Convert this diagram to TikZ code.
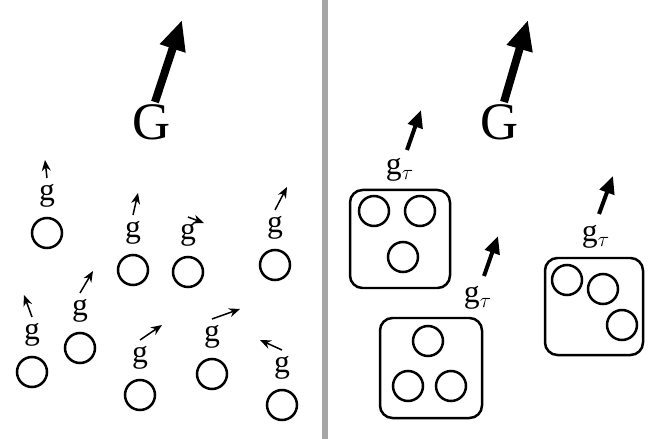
\documentclass[tikz,border=0pt]{standalone}
\usepackage{fontspec}
\setmainfont{Liberation Serif}
\usetikzlibrary{arrows.meta}
\tikzset{
  particle/.style={circle, draw, line width=0.5mm, minimum size=0.6cm, inner sep=0pt},
  cluster/.style={rounded corners=0.25cm, draw, line width=0.5mm},
  smallarrow/.style={-{Stealth[length=2.2mm,width=1.8mm]}, line width=0.3mm},
  clusterarrow/.style={-{Triangle[length=3.5mm,width=3mm]}, line width=0.8mm},
  bigarrow/.style={-{Triangle[length=6mm,width=5mm]}, line width=1.6mm},
  biglabel/.style={font=\fontsize{30}{30}\selectfont, inner sep=0pt},
  smalllabel/.style={font=\fontsize{18}{18}\selectfont, inner sep=0pt}
}
\begin{document}
\begin{tikzpicture}[x=0.02cm, y=-0.02cm]
\useasboundingbox (0,0) rectangle (660,439);
% divider
\fill [gray!70] (322,0) rectangle (328,439);

% left side: free particles
\node (G1) [biglabel] at (152,122) {G};
\coordinate (G1tip) at (182,20);
\draw [bigarrow] (155,102) -- (G1tip);
\foreach \name/\x/\y/\dx/\dy in {a/47/233/-2/-18, b/133/270/5/-22, c/188/272/16/6,
    d/275/265/12/-23, e/80/348/13/-22, f/32/372/-8/-22, h/140/395/22/-15,
    i/212/374/28/-10, j/282/405/-22/-10} {
  \node (p\name) [particle] at (\x,\y) {};
  \node (g\name) [smalllabel] at (\x,\y-37) {g};
  \coordinate (t\name) at (\x+\dx,\y-55+\dy);
  \draw [smallarrow] (\x,\y-55) -- (t\name);
}

% right side: clusters
\node (G2) [biglabel] at (500,122) {G};
\coordinate (G2tip) at (528,20);
\draw [bigarrow] (504,102) -- (G2tip);

\draw [cluster] (350,190) rectangle (450,288);
\node (c1a) [particle] at (374,211) {};
\node (c1b) [particle] at (420,211) {};
\node (c1c) [particle] at (403,257) {};
\node (gt1) [smalllabel] at (400,170) {g$_\tau$};
\coordinate (gt1tip) at (421,110);
\draw [clusterarrow] (407,150) -- (gt1tip);

\draw [cluster] (380,318) rectangle (482,418);
\node (c2a) [particle] at (428,341) {};
\node (c2b) [particle] at (408,386) {};
\node (c2c) [particle] at (451,386) {};
\node (gt2) [smalllabel] at (478,298) {g$_\tau$};
\coordinate (gt2tip) at (498,236);
\draw [clusterarrow] (484,276) -- (gt2tip);

\draw [cluster] (545,258) rectangle (643,355);
\node (c3a) [particle] at (567,280) {};
\node (c3b) [particle] at (603,289) {};
\node (c3c) [particle] at (622,325) {};
\node (gt3) [smalllabel] at (596,237) {g$_\tau$};
\coordinate (gt3tip) at (613,176);
\draw [clusterarrow] (599,214) -- (gt3tip);
\end{tikzpicture}
\end{document}
